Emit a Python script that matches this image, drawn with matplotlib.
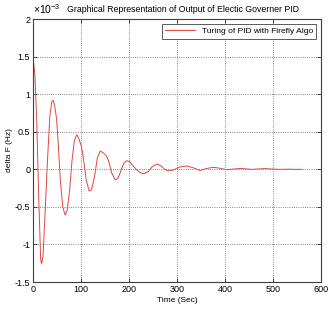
import matplotlib
matplotlib.use("Agg")
import matplotlib.pyplot as plt

# time (s) and deviation of frequency (x1e-3 Hz)
time_s = [0, 4, 8, 12, 16, 18, 21, 25, 30, 35, 39, 42, 45, 49, 53, 57, 62, 67,
          71, 76, 81, 86, 91, 95, 101, 106, 111, 117, 122, 128, 134, 140, 146,
          153, 158, 164, 171, 177, 183, 189, 195, 201, 208, 215, 222, 231, 240,
          249, 258, 266, 274, 282, 292, 305, 320, 334, 348, 361, 375, 389, 403,
          417, 431, 444, 456, 470, 483, 498, 514, 530, 545, 560]
delta_f = [1.50, 1.25, 0.60, -0.40, -1.20, -1.26, -1.15, -0.60, 0.10, 0.70,
           0.90, 0.92, 0.85, 0.68, 0.30, -0.15, -0.50, -0.61, -0.55, -0.30,
           0.10, 0.38, 0.46, 0.42, 0.30, 0.10, -0.15, -0.29, -0.27, -0.10,
           0.15, 0.245, 0.22, 0.18, 0.10, -0.05, -0.14, -0.12, -0.02, 0.08,
           0.115, 0.10, 0.05, 0.00, -0.04, -0.06, -0.03, 0.04, 0.07, 0.05,
           0.00, -0.02, -0.01, 0.03, 0.045, 0.02, -0.015, 0.01, 0.027, 0.015,
           -0.005, 0.003, 0.012, 0.006, 0.0, 0.005, 0.01, 0.004, 0.0, 0.002,
           0.0, 0.0]
x_ticks = [0, 100, 200, 300, 400, 500, 600]
y_ticks = [-1.5, -1, -0.5, 0, 0.5, 1, 1.5, 2]
y_tick_labels = ['-1.5', '-1', '-0.5', '0', '0.5', '1', '1.5', '2']

plt.rcParams['font.family'] = ['Liberation Sans', 'DejaVu Sans']
plt.rcParams['mathtext.fontset'] = 'custom'
plt.rcParams['mathtext.rm'] = 'Liberation Sans'
plt.rcParams['font.size'] = 6

fig = plt.figure(figsize=(3.30, 3.13), dpi=100)
ax = fig.add_axes([0.100, 0.099, 0.873, 0.840])

ax.plot(time_s, delta_f, color='#e04545', lw=0.7,
        label='Turing of PID with Firefly Algo')

ax.set_xlim(0, 600)
ax.set_ylim(-1.5, 2)
ax.set_xticks(x_ticks)
ax.set_yticks(y_ticks)
ax.set_yticklabels(y_tick_labels)
ax.tick_params(direction='in', length=3, width=0.5, pad=2, labelsize=6.5,
               top=True, right=True)
ax.grid(True, linestyle=':', color='#606060', lw=0.6)
for s in ax.spines.values():
    s.set_linewidth(0.8)
    s.set_color('#404040')

ax.set_xlabel('Time (Sec)', fontsize=6, labelpad=2)
ax.set_ylabel('delta F (Hz)', fontsize=6, labelpad=1)
ax.set_title('Graphical Representation of Output of Electic Governer PID',
             fontsize=6.3, pad=5, x=0.52)
ax.text(0.0, 1.01, r'$\times10^{-3}$', transform=ax.transAxes,
        fontsize=7.5, ha='left', va='bottom')

leg = ax.legend(loc='upper right', fontsize=6, fancybox=False,
                framealpha=1, edgecolor='#404040', handlelength=3.6,
                borderaxespad=0.6, borderpad=0.4)
leg.get_frame().set_linewidth(0.6)

fig.savefig('out.png', dpi=100)
